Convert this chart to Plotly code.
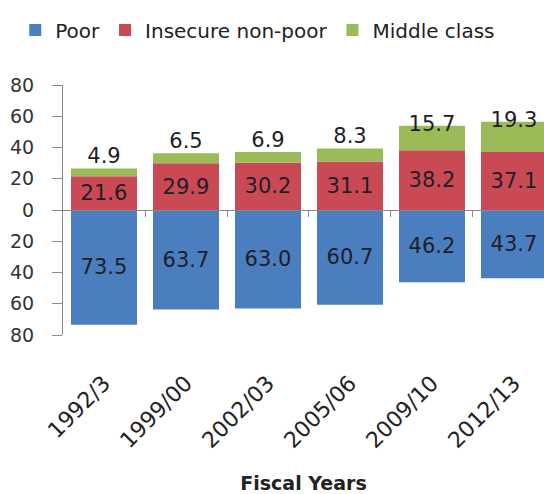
import plotly.graph_objects as go

years = ["1992/3", "1999/00", "2002/03", "2005/06", "2009/10", "2012/13"]
poor = [73.5, 63.7, 63.0, 60.7, 46.2, 43.7]
insecure = [21.6, 29.9, 30.2, 31.1, 38.2, 37.1]
middle = [4.9, 6.5, 6.9, 8.3, 15.7, 19.3]

y_ticks = [-80, -60, -40, -20, 0, 20, 40, 60, 80]

FONT = "DejaVu Sans"
LABEL = dict(family=FONT, size=21, color="#1e1e28")

traces = [
    go.Bar(
        name="Poor",
        x=years,
        y=[-v for v in poor],
        text=[f"{v:.1f}" for v in poor],
        textposition="inside",
        insidetextanchor="middle",
        constraintext="none",
        textfont=LABEL,
        marker=dict(color="#4a7ebf", line=dict(width=0)),
    ),
    go.Bar(
        name="Insecure non-poor",
        x=years,
        y=insecure,
        text=[f"{v:.1f}" for v in insecure],
        textposition="inside",
        insidetextanchor="middle",
        constraintext="none",
        textfont=LABEL,
        marker=dict(color="#c94a55", line=dict(width=0)),
    ),
    go.Bar(
        name="Middle class",
        x=years,
        y=middle,
        marker=dict(color="#9bbb59", line=dict(width=0)),
    ),
    # middle class labels sit on top of the stack
    go.Scatter(
        x=years,
        y=[a + b for a, b in zip(insecure, middle)],
        text=[f"{v:.1f}" for v in middle],
        mode="text",
        textposition=["top center"] * 4 + ["middle center"] * 2,
        textfont=LABEL,
        cliponaxis=False,
        showlegend=False,
        hoverinfo="skip",
    ),
    # dummy trace so the zero-line axis gets drawn
    go.Scatter(x=[], y=[], xaxis="x2", showlegend=False, hoverinfo="skip"),
]

# the original chart is cropped on the right, mid-way through the last bar
x_max = 5.366

fig = go.Figure(data=traces)
fig.update_layout(
    width=544,
    height=494,
    margin=dict(l=63, r=0, t=85, b=159),
    paper_bgcolor="white",
    plot_bgcolor="white",
    barmode="relative",
    bargap=0.195,
    font=dict(family=FONT, color="#333333"),
    legend=dict(
        orientation="h",
        xref="container",
        yref="container",
        x=0.028,
        xanchor="left",
        y=1 - 30 / 494,
        yanchor="middle",
        font=dict(family=FONT, size=20, color="#222222"),
        itemwidth=30,
        tracegroupgap=0,
    ),
    xaxis=dict(
        range=[-0.5, x_max],
        automargin=False,
        showline=False,
        showgrid=False,
        ticks="",
        tickangle=-45,
        tickfont=dict(family=FONT, size=22, color="#222222"),
        ticklabelstandoff=30,
        title=dict(
            text="<b>Fiscal Years</b>",
            font=dict(family=FONT, size=19, color="#222222"),
            standoff=26,
        ),
    ),
    xaxis2=dict(
        overlaying="x",
        anchor="free",
        position=0.5,
        type="linear",
        automargin=False,
        range=[-0.5, x_max],
        showline=True,
        linecolor="#8a8a8a",
        linewidth=1,
        showgrid=False,
        zeroline=False,
        ticks="outside",
        ticklen=6,
        tickcolor="#8a8a8a",
        tickvals=[i + 0.5 for i in range(len(years))],
        showticklabels=False,
    ),
    yaxis=dict(
        range=[-80, 80],
        automargin=False,
        tickvals=y_ticks,
        ticktext=[str(abs(v)) for v in y_ticks],
        showline=True,
        linecolor="#8a8a8a",
        linewidth=1,
        ticks="outside",
        ticklen=10,
        tickcolor="#8a8a8a",
        showgrid=False,
        zeroline=False,
        tickfont=dict(family=FONT, size=19, color="#333333"),
        ticklabelstandoff=14,
    ),
)

# drop the default page margin so the figure fills the window
fig.write_html(
    "out.html",
    config={"displayModeBar": False},
    post_script="document.body.style.margin='0';document.body.style.overflow='hidden';",
)
